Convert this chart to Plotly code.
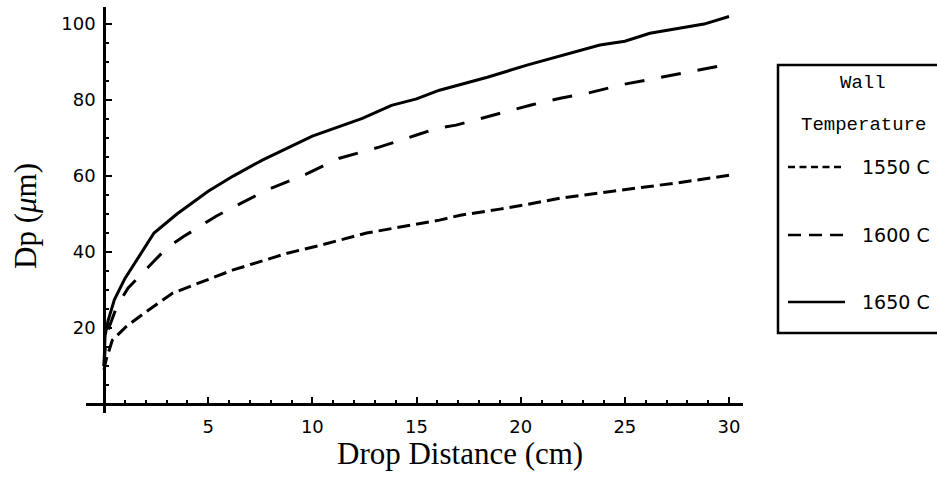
import plotly.graph_objects as go

# ---- data ----
series_names = ["1550 C", "1600 C", "1650 C"]

x_1550 = [0, 0.1, 0.4, 1.05, 2.0, 3.3, 6.2, 8.8, 10.4, 12.6, 16.1, 17.1, 19.0, 20.3, 21.9, 23.8, 25.4, 27.5, 30.0]
y_1550 = [9, 11.6, 16.8, 20.3, 24.2, 29.2, 35.3, 39.7, 41.8, 45.0, 48.4, 49.7, 51.3, 52.5, 54.2, 55.5, 56.6, 58.2, 60.2]

x_1600 = [0, 0.1, 0.6, 1.15, 2.45, 3.0, 3.8, 5.4, 7.8, 9.7, 11.3, 12.4, 13.2, 15.0, 16.0, 16.9, 18.7, 20.5, 21.9, 23.2, 25.0, 26.8, 29.8]
y_1600 = [10, 18, 25.5, 30.5, 37.9, 41.0, 44.0, 49.5, 56.3, 60.5, 64.7, 66.3, 67.6, 70.8, 72.6, 73.4, 76.0, 78.7, 80.5, 81.8, 84.2, 86.0, 89.2]

x_1650 = [0, 0.05, 0.2, 0.5, 1.0, 1.9, 2.4, 3.5, 5.0, 6.2, 7.6, 10.0, 12.4, 13.8, 15.0, 16.1, 18.4, 20.3, 21.9, 23.8, 25.0, 26.2, 28.8, 30.0]
y_1650 = [10, 18, 22, 27.5, 33, 40.5, 45, 50, 56, 60, 64.2, 70.5, 75.2, 78.6, 80.3, 82.6, 86, 89.2, 91.6, 94.5, 95.5, 97.6, 100, 102]

x_ticks = [5, 10, 15, 20, 25, 30]
y_ticks = [20, 40, 60, 80, 100]
legend_title = ["Wall", "Temperature"]

curve_dash = ["13px,6px", "20px,17px", "solid"]
legend_dash = ["7px,4.5px", "13px,8px", "solid"]

# ---- figure ----
W, H = 937, 477
L, R, T, B = 86, 743, 7, 413  # plot area in pixels


def px_x(p):
    return (p - L) / (R - L)


def px_y(p):
    return (B - p) / (B - T)


fig = go.Figure()
for xs, ys, name, d in zip([x_1550, x_1600, x_1650], [y_1550, y_1600, y_1650], series_names, curve_dash):
    fig.add_trace(go.Scatter(x=xs, y=ys, mode="lines", name=name,
                             line=dict(color="black", width=3, dash=d), showlegend=False))

tickfont = dict(family="DejaVu Sans", size=18, color="black")
fig.update_layout(
    width=W, height=H,
    margin=dict(l=L, r=W - R, t=T, b=H - B, pad=0),
    paper_bgcolor="white", plot_bgcolor="white",
    xaxis=dict(range=[-0.864, 30.67], showgrid=False, zeroline=False,
               showline=True, linecolor="black", linewidth=2.5,
               anchor="free", position=(B - 404) / (B - T),
               tickvals=x_ticks, ticks="inside", ticklen=6, tickwidth=2, tickcolor="black",
               tickfont=tickfont, ticklabelstandoff=6,
               minor=dict(dtick=1, ticks="inside", ticklen=3, tickwidth=2, tickcolor="black")),
    yaxis=dict(range=[-2.37, 104.5], showgrid=False, zeroline=False,
               showline=True, linecolor="black", linewidth=2.5,
               anchor="free", position=(104 - L) / (R - L),
               tickvals=y_ticks, ticks="inside", ticklen=6, tickwidth=2, tickcolor="black",
               tickfont=tickfont, ticklabelstandoff=4,
               minor=dict(dtick=5, ticks="inside", ticklen=3, tickwidth=2, tickcolor="black")),
)

# axis titles
fig.add_annotation(text="Drop Distance (cm)", xref="paper", yref="paper",
                   x=px_x(460), y=px_y(453), xanchor="center", yanchor="middle", showarrow=False,
                   font=dict(family="Liberation Serif", size=31, color="black"))
fig.add_annotation(text="Dp (<i>μ</i>m)", xref="paper", yref="paper",
                   x=px_x(25), y=px_y(216), xanchor="center", yanchor="middle",
                   showarrow=False, textangle=-90,
                   font=dict(family="Liberation Serif", size=31, color="black"))

# legend box
fig.add_shape(type="rect", xref="paper", yref="paper",
              x0=px_x(778), x1=px_x(950), y0=px_y(333), y1=px_y(65),
              line=dict(color="black", width=2.5), fillcolor="white", layer="below")
mono = dict(family="Liberation Mono", size=19, color="black")
fig.add_annotation(text=legend_title[0], xref="paper", yref="paper", x=px_x(863), y=px_y(83),
                   xanchor="center", yanchor="middle", showarrow=False, font=mono)
fig.add_annotation(text=legend_title[1], xref="paper", yref="paper", x=px_x(863), y=px_y(125),
                   xanchor="center", yanchor="middle", showarrow=False, font=mono)
for name, d, py in zip(series_names, legend_dash, [167, 235, 302]):
    fig.add_shape(type="line", xref="paper", yref="paper",
                  x0=px_x(788), x1=px_x(845), y0=px_y(py), y1=px_y(py),
                  line=dict(color="black", width=2.5, dash=d))
    fig.add_annotation(text=name, xref="paper", yref="paper", x=px_x(860), y=px_y(py),
                       xanchor="left", yanchor="middle", showarrow=False,
                       font=dict(family="DejaVu Sans", size=19, color="black"))

fig.write_html("out.html")
